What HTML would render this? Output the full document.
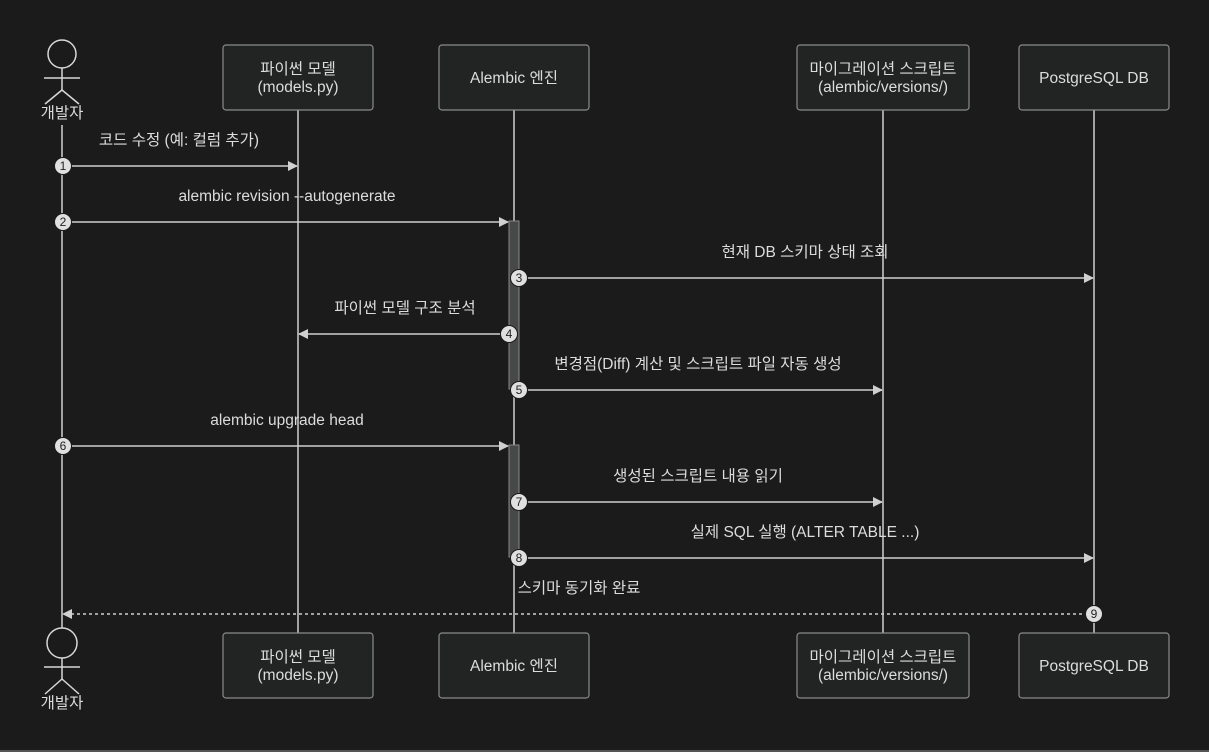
<!DOCTYPE html>
<html><head><meta charset="utf-8"><style>
html,body{margin:0;padding:0;background:#1b1b1b;}
svg{display:block;}
text{font-family:"Liberation Sans","Noto Sans CJK KR",sans-serif;fill:#dcdcdc;font-size:15.5px;}
.n{font-size:12px;fill:#222;}
</style></head><body>
<svg width="1209" height="752" viewBox="0 0 1209 752" xmlns="http://www.w3.org/2000/svg">
<defs>
<marker id="a" markerWidth="10" markerHeight="10" refX="9" refY="5" orient="auto" markerUnits="userSpaceOnUse"><path d="M0,0 L10,5 L0,10 z" fill="#d0d0d0"/></marker>
</defs>
<rect x="0" y="0" width="1209" height="752" fill="#1b1b1b"/>
<line x1="0" y1="751" x2="1209" y2="751" stroke="#555" stroke-width="2"/>
<g stroke="#cfcfcf" stroke-width="1.5">
<line x1="62" y1="125" x2="62" y2="628"/>
<line x1="298" y1="110" x2="298" y2="633"/>
<line x1="514" y1="110" x2="514" y2="633"/>
<line x1="883" y1="110" x2="883" y2="633"/>
<line x1="1094" y1="110" x2="1094" y2="633"/>
</g>
<rect x="509" y="221" width="10" height="168" fill="#474949" stroke="#888" stroke-width="1"/>
<rect x="509" y="445" width="10" height="112" fill="#474949" stroke="#888" stroke-width="1"/>
<g fill="#222424" stroke="#8a8a8a" stroke-width="1.2">
<rect x="223" y="45" width="150" height="65" rx="3"/>
<rect x="439" y="45" width="150" height="65" rx="3"/>
<rect x="797" y="45" width="172" height="65" rx="3"/>
<rect x="1019" y="45" width="150" height="65" rx="3"/>
<rect x="223" y="633" width="150" height="65" rx="3"/>
<rect x="439" y="633" width="150" height="65" rx="3"/>
<rect x="797" y="633" width="172" height="65" rx="3"/>
<rect x="1019" y="633" width="150" height="65" rx="3"/>
</g>
<g text-anchor="middle">
<text x="298" y="74">파이썬 모델</text><text x="298" y="92">(models.py)</text>
<text x="514" y="83">Alembic 엔진</text>
<text x="883" y="74">마이그레이션 스크립트</text><text x="883" y="92">(alembic/versions/)</text>
<text x="1094" y="83">PostgreSQL DB</text>
<text x="298" y="662">파이썬 모델</text><text x="298" y="680">(models.py)</text>
<text x="514" y="671">Alembic 엔진</text>
<text x="883" y="662">마이그레이션 스크립트</text><text x="883" y="680">(alembic/versions/)</text>
<text x="1094" y="671">PostgreSQL DB</text>
</g>
<g stroke="#d8d8d8" stroke-width="1.5" fill="#1b1b1b">
<circle cx="62" cy="54" r="14"/>
<line x1="62" y1="68" x2="62" y2="90"/><line x1="44" y1="78" x2="80" y2="78"/>
<line x1="62" y1="90" x2="45" y2="104"/><line x1="62" y1="90" x2="79" y2="104"/>
<circle cx="62" cy="643" r="15"/>
<line x1="62" y1="658" x2="62" y2="679"/><line x1="44" y1="667" x2="80" y2="667"/>
<line x1="62" y1="679" x2="45" y2="694"/><line x1="62" y1="679" x2="79" y2="694"/>
</g>
<text x="62" y="118" text-anchor="middle">개발자</text>
<text x="62" y="708" text-anchor="middle">개발자</text>
<g stroke="#d0d0d0" stroke-width="1.5" fill="none">
<line x1="62" y1="166" x2="297" y2="166" marker-end="url(#a)"/>
<line x1="62" y1="222" x2="508" y2="222" marker-end="url(#a)"/>
<line x1="519" y1="278" x2="1093" y2="278" marker-end="url(#a)"/>
<line x1="509" y1="334" x2="299" y2="334" marker-end="url(#a)"/>
<line x1="519" y1="390" x2="882" y2="390" marker-end="url(#a)"/>
<line x1="62" y1="446" x2="508" y2="446" marker-end="url(#a)"/>
<line x1="519" y1="502" x2="882" y2="502" marker-end="url(#a)"/>
<line x1="519" y1="558" x2="1093" y2="558" marker-end="url(#a)"/>
<line x1="1094" y1="614" x2="63" y2="614" stroke-dasharray="3,3" marker-end="url(#a)"/>
</g>
<g text-anchor="middle">
<text x="179" y="145">코드 수정 (예: 컬럼 추가)</text>
<text x="287" y="201">alembic revision --autogenerate</text>
<text x="805" y="257">현재 DB 스키마 상태 조회</text>
<text x="405" y="313">파이썬 모델 구조 분석</text>
<text x="698" y="369">변경점(Diff) 계산 및 스크립트 파일 자동 생성</text>
<text x="287" y="425">alembic upgrade head</text>
<text x="698" y="481">생성된 스크립트 내용 읽기</text>
<text x="805" y="537">실제 SQL 실행 (ALTER TABLE ...)</text>
<text x="579" y="593">스키마 동기화 완료</text>
</g>
<g fill="#e0e0e0" stroke="#1b1b1b" stroke-width="1">
<circle cx="63" cy="166" r="8.5"/><circle cx="63" cy="222" r="8.5"/>
<circle cx="519" cy="278" r="8.5"/><circle cx="509" cy="334" r="8.5"/>
<circle cx="519" cy="390" r="8.5"/><circle cx="63" cy="446" r="8.5"/>
<circle cx="519" cy="502" r="8.5"/><circle cx="519" cy="558" r="8.5"/>
<circle cx="1094" cy="614" r="8.5"/>
</g>
<g text-anchor="middle">
<text class="n" x="63" y="170">1</text><text class="n" x="63" y="226">2</text>
<text class="n" x="519" y="282">3</text><text class="n" x="509" y="338">4</text>
<text class="n" x="519" y="394">5</text><text class="n" x="63" y="450">6</text>
<text class="n" x="519" y="506">7</text><text class="n" x="519" y="562">8</text>
<text class="n" x="1094" y="618">9</text>
</g>
</svg>
</body></html>
